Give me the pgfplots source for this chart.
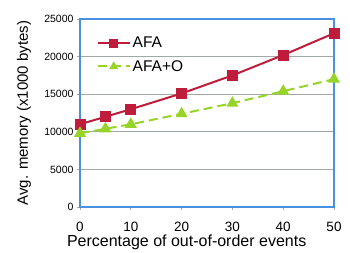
\documentclass[border=0pt]{standalone}
\usepackage{pgfplots}
\pgfplotsset{compat=1.18}
\usepackage{fontspec}
\setmainfont{Liberation Sans}
\definecolor{afared}{RGB}{190,28,58}
\definecolor{afagreen}{RGB}{150,212,40}
\definecolor{axblue}{RGB}{74,144,226}
\definecolor{gridgrey}{RGB}{160,168,168}
\begin{document}
\begin{tikzpicture}[x=1pt,y=1pt]
\path[use as bounding box] (0,0) rectangle (350,253);
\begin{axis}[
  at={(80pt,46pt)}, anchor=south west,
  scale only axis, width=254pt, height=188pt,
  xmin=0, xmax=50, ymin=0, ymax=25000,
  xtick={0,10,20,30,40,50},
  ytick={0,5000,10000,15000,20000,25000},
  ymajorgrids, grid style={gridgrey, line width=0.8pt},
  axis line style={axblue, line width=1.6pt},
  tick style={gridgrey, line width=0.8pt},
  tick align=outside, major tick length=3pt,
  xtick pos=bottom, ytick pos=left,
  /pgf/number format/assume math mode=true,
  scaled y ticks=false,
  yticklabel style={/pgf/number format/1000 sep={}, font=\fontsize{10.5}{12}\selectfont},
  xticklabel style={font=\fontsize{13.5}{15}\selectfont, yshift=-9pt},
  xlabel={Percentage of out-of-order events},
  ylabel={Avg. memory (x1000 bytes)},
  xlabel style={font=\fontsize{16}{18}\selectfont, at={(axis description cs:0.42,-0.19)}, anchor=center},
  ylabel style={font=\fontsize{15}{17}\selectfont, at={(axis description cs:-0.22,0.5)}, anchor=center},
  legend style={draw=none, fill=none, at={(axis description cs:0.065,0.915)}, anchor=north west, font=\fontsize{15.5}{17}\selectfont, row sep=7pt, inner sep=0pt},
  legend cell align=left,
  legend image code/.code={\draw[mark repeat=2,mark phase=2,#1,mark size=3.3pt] plot coordinates {(0pt,0pt) (16pt,0pt) (32pt,0pt)};},
  clip=false,
]
\addplot[afared, line width=2pt, mark=square*, mark size=4.5pt] coordinates {
(0,11000) (5,12000) (10,13000) (20,15100) (30,17500) (40,20200) (50,23100)};
\addlegendentry{AFA}
\addplot[afagreen, line width=2pt, dash pattern=on 9pt off 5pt, mark=triangle*, mark size=5pt, mark options={solid}] coordinates {
(0,9800) (5,10400) (10,11000) (20,12400) (30,13800) (40,15400) (50,17000)};
\addlegendentry{AFA+O}
\end{axis}
\end{tikzpicture}
\end{document}
